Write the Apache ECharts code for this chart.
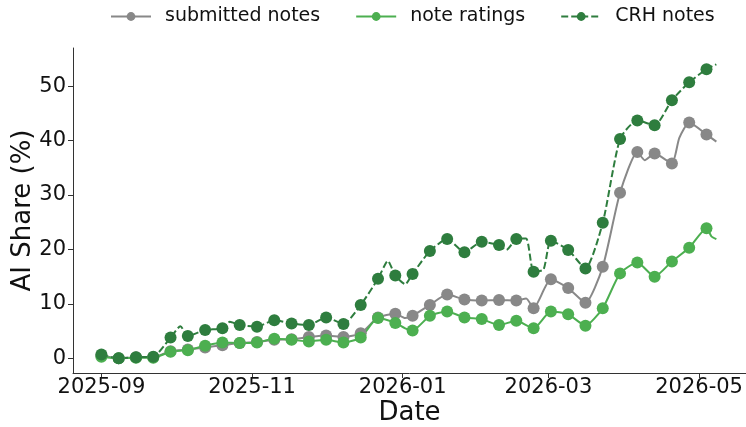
<!DOCTYPE html>
<html>
<head>
<meta charset="utf-8">
<script src="https://cdn.jsdelivr.net/npm/echarts@6/dist/echarts.min.js"></script>
<style>
  html, body { margin: 0; padding: 0; background: #fff; }
  #chart { width: 746px; height: 427px; }
</style>
</head>
<body>
<div id="chart"></div>
<script>
// weekly marker dates
const weeks = [
  '2025-09-01', '2025-09-08', '2025-09-15', '2025-09-22', '2025-09-29', '2025-10-06',
  '2025-10-13', '2025-10-20', '2025-10-27', '2025-11-03', '2025-11-10', '2025-11-17',
  '2025-11-24', '2025-12-01', '2025-12-08', '2025-12-15', '2025-12-22', '2025-12-29',
  '2026-01-05', '2026-01-12', '2026-01-19', '2026-01-26', '2026-02-02', '2026-02-09',
  '2026-02-16', '2026-02-23', '2026-03-02', '2026-03-09', '2026-03-16', '2026-03-23',
  '2026-03-30', '2026-04-06', '2026-04-13', '2026-04-20', '2026-04-27', '2026-05-04'
]

const submitted = [
  0.5, 0.0, 0.2, 0.2, 1.3, 1.6, 2.0, 2.4, 2.8, 3.0, 3.4, 3.5,
  3.9, 4.2, 3.9, 4.6, 7.5, 8.2, 7.8, 9.8, 11.7, 10.8, 10.6, 10.7,
  10.6, 9.2, 14.5, 12.9, 10.2, 16.8, 30.4, 37.9, 37.6, 35.8, 43.3, 41.1
]
const ratings = [
  0.3, 0.0, 0.1, 0.1, 1.2, 1.5, 2.3, 2.9, 2.8, 2.9, 3.6, 3.4,
  3.1, 3.4, 2.9, 3.8, 7.4, 6.5, 5.1, 7.8, 8.6, 7.5, 7.2, 6.1,
  6.9, 5.5, 8.6, 8.1, 6.0, 9.2, 15.6, 17.6, 15.0, 17.8, 20.3, 23.9
]
const crh = [
  0.7, 0.0, 0.2, 0.3, 3.8, 4.1, 5.2, 5.5, 6.1, 5.8, 7.0, 6.4,
  6.1, 7.5, 6.3, 9.8, 14.6, 15.2, 15.5, 19.7, 21.9, 19.5, 21.4, 20.8,
  21.9, 15.9, 21.6, 19.9, 16.5, 24.9, 40.3, 43.7, 42.8, 47.4, 50.7, 53.1
]

// unmarked points between the weekly markers (visible kinks in the lines)
const submittedExtra = [
  ['2026-01-02', 7.4], ['2026-02-20', 11.0], ['2026-04-09', 36.4],
  ['2026-04-23', 40.5], ['2026-05-08', 39.8]
]
const ratingsExtra = [
  ['2026-01-02', 5.5], ['2026-05-06', 22.4], ['2026-05-08', 21.9]
]
const crhExtra = [
  ['2025-10-03', 5.9], ['2025-10-23', 6.7], ['2025-12-26', 17.9],
  ['2026-01-02', 13.6], ['2026-02-12', 19.9], ['2026-02-20', 22.0],
  ['2026-02-27', 16.3], ['2026-05-08', 54.0]
]

const xTicks = ['2025-09-01', '2025-11-01', '2026-01-01', '2026-03-01', '2026-05-01']
const yTicks = [0, 10, 20, 30, 40, 50]

const toTime = s => {
  const [y, m, d] = s.split('-').map(Number)
  return new Date(y, m - 1, d).getTime()
}

const buildData = (vals, extra) => {
  const pts = weeks.map((d, i) => ({ value: [toTime(d), vals[i]] }))
  extra.forEach(([d, v]) => pts.push({ value: [toTime(d), v], symbol: 'none' }))
  return pts.sort((a, b) => a.value[0] - b.value[0])
}

const font = 'DejaVu Sans'

const makeSeries = (name, color, vals, extra, dashed) => ({
  name,
  type: 'line',
  data: buildData(vals, extra),
  symbol: 'circle',
  symbolSize: 12,
  smooth: 0.2,
  lineStyle: { color, width: 2, type: dashed ? [7, 3] : 'solid' },
  itemStyle: { color },
  emphasis: { disabled: true }
})

const chart = echarts.init(document.getElementById('chart'), null, { renderer: 'canvas' })

chart.setOption({
  animation: false,
  backgroundColor: '#fff',
  textStyle: { fontFamily: font },
  legend: {
    top: 2,
    left: 105,
    itemWidth: 40,
    itemHeight: 11,
    itemGap: 35,
    textStyle: { fontFamily: font, fontSize: 19, color: '#111', padding: [0, 0, 0, 9] },
    data: ['submitted notes', 'note ratings', 'CRH notes']
  },
  grid: { left: 73, right: 0, top: 48, bottom: 54, containLabel: false, outerBoundsMode: 'none' },
  xAxis: {
    type: 'value',
    min: toTime('2025-08-20') + 12 * 3600 * 1000,
    max: toTime('2026-05-20'),
    name: 'Date',
    nameLocation: 'middle',
    nameGap: 27,
    nameMoveOverlap: false,
    nameTextStyle: { fontFamily: font, fontSize: 26, color: '#111' },
    axisLine: { onZero: false, lineStyle: { color: '#333', width: 1 } },
    axisTick: { show: true, length: 5, lineStyle: { color: '#333' }, customValues: xTicks.map(toTime) },
    axisLabel: {
      fontFamily: font, fontSize: 21, color: '#111', margin: 4,
      customValues: xTicks.map(toTime),
      formatter: v => {
        const d = new Date(v)
        return d.getFullYear() + '-' + String(d.getMonth() + 1).padStart(2, '0')
      }
    },
    splitLine: { show: false }
  },
  yAxis: {
    type: 'value',
    min: -2.7,
    max: 57.0,
    name: 'AI Share (%)',
    nameLocation: 'middle',
    nameRotate: 90,
    nameGap: 37,
    nameMoveOverlap: false,
    nameTextStyle: { fontFamily: font, fontSize: 26, color: '#111' },
    axisLine: { show: true, onZero: false, lineStyle: { color: '#333', width: 1 } },
    axisTick: { show: true, length: 5, lineStyle: { color: '#333' }, customValues: yTicks },
    axisLabel: { fontFamily: font, fontSize: 21, color: '#111', margin: 7, customValues: yTicks },
    splitLine: { show: false }
  },
  series: [
    makeSeries('submitted notes', '#888888', submitted, submittedExtra, false),
    makeSeries('note ratings', '#4caf50', ratings, ratingsExtra, false),
    makeSeries('CRH notes', '#2e7d3e', crh, crhExtra, true)
  ]
})
</script>
</body>
</html>
